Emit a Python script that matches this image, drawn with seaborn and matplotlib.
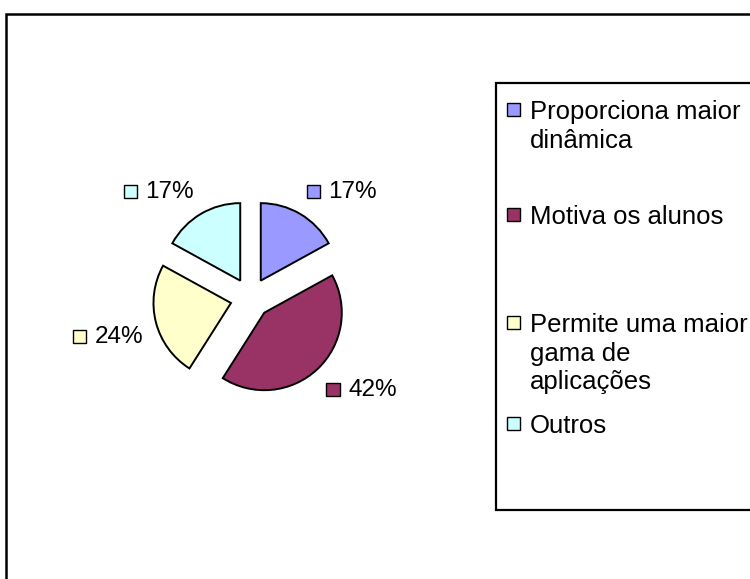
import numpy as np
import matplotlib
matplotlib.use("Agg")
import matplotlib.pyplot as plt
import seaborn as sns
from matplotlib.patches import Rectangle
from matplotlib.offsetbox import AnnotationBbox, DrawingArea, HPacker, TextArea

# ---------- DATA ----------
categories = [
    "Proporciona maior\ndinâmica",
    "Motiva os alunos",
    "Permite uma maior\ngama de\naplicações",
    "Outros",
]
shares = [17, 42, 24, 17]
colors = ["#9999FF", "#993366", "#FFFFCC", "#CCFFFF"]

# ---------- LAYOUT (pixels) ----------
W, H, DPI = 750, 579, 100
R = 77.5                  # pie radius in px
CX, CY = 250.5, 298       # pie centre in px (y down)
EXPLODE = 0.26
LABEL_R = 1.17
LEG_X0, LEG_Y0, LEG_Y1 = 496, 83, 510
LEG_TEXT_X, LEG_KEY_X = 530, 507
LEG_BASELINES = [119, 224, 332, 433]
LINE_STEP = 28.5

sns.set_theme(style="white")
plt.rcParams["font.family"] = ["Liberation Sans", "DejaVu Sans"]

fig = plt.figure(figsize=(W / DPI, H / DPI), dpi=DPI)
fig.patch.set_facecolor("white")

# --- background overlay in pixel coords (frame + legend) ---
bg = fig.add_axes([0, 0, 1, 1])
bg.set_xlim(0, W); bg.set_ylim(H, 0); bg.axis("off")
bg.plot([6, 6, W + 5], [H + 5, 14, 14], color="black", lw=1.8, solid_joinstyle="miter")
bg.plot([W + 5, LEG_X0, LEG_X0, W + 5], [LEG_Y0, LEG_Y0, LEG_Y1, LEG_Y1],
        color="black", lw=1.6, solid_joinstyle="miter")

for label, col, base in zip(categories, colors, LEG_BASELINES):
    bg.add_patch(Rectangle((LEG_KEY_X, base - 16), 13, 13, facecolor=col,
                           edgecolor="black", lw=1.0))
    for i, line in enumerate(label.split("\n")):
        bg.text(LEG_TEXT_X, base + i * LINE_STEP, line, fontsize=18.5,
                va="baseline", ha="left", color="black")

# --- pie axes: one unit = R pixels ---
half = 2 * R
pie_ax = fig.add_axes([(CX - half) / W, (H - CY - half) / H, 2 * half / W, 2 * half / H])
wedges, _ = pie_ax.pie(shares, colors=colors, explode=[EXPLODE] * len(shares),
                       startangle=90, counterclock=False, radius=1,
                       wedgeprops=dict(edgecolor="black", linewidth=1.4))
pie_ax.set_aspect("equal")
pie_ax.set_xlim(-2, 2); pie_ax.set_ylim(-2, 2)
pie_ax.axis("off")

# data labels with a colour key, Excel style
for w, pct, col in zip(wedges, shares, colors):
    th = np.deg2rad((w.theta1 + w.theta2) / 2)
    x0, y0 = w.center
    lx, ly = x0 + LABEL_R * np.cos(th), y0 + LABEL_R * np.sin(th)
    key = DrawingArea(9.6, 9.6)
    key.add_artist(Rectangle((0, 0), 9.6, 9.6, facecolor=col, edgecolor="black", lw=1.0))
    txt = TextArea(f"{pct}%", textprops=dict(fontsize=17.5, color="black"))
    box = HPacker(children=[key, txt], align="center", pad=0, sep=6)
    ab = AnnotationBbox(box, (lx, ly), xycoords="data",
                        box_alignment=(0 if np.cos(th) > 0 else 1, 0 if np.sin(th) > 0 else 1),
                        frameon=False, pad=0)
    pie_ax.add_artist(ab)

fig.savefig("out.png", dpi=DPI)
